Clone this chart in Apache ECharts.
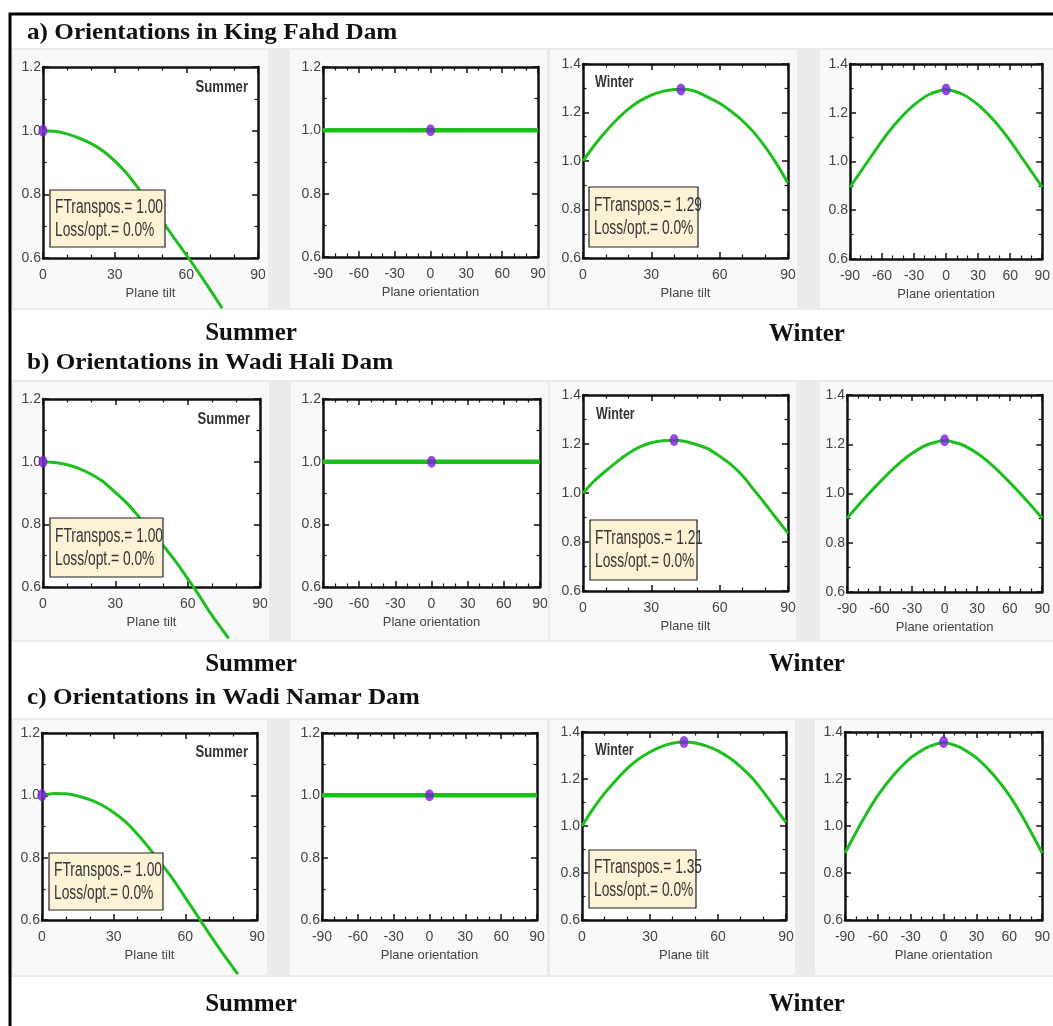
<!DOCTYPE html>
<html><head><meta charset="utf-8">
<script src="https://cdn.jsdelivr.net/npm/echarts@6/dist/echarts.min.js"></script>
<style>html,body{margin:0;padding:0;background:#fff}#c{width:1053px;height:1026px}</style>
</head><body><div id="c"></div>
<script>
// ================= DATA =================
const rowTitles = ['a) Orientations in King Fahd Dam', 'b) Orientations in Wadi Hali Dam', 'c) Orientations in Wadi Namar Dam'];
const seasonNames = ['Summer', 'Winter'];
const xNameTilt = 'Plane tilt';
const xNameOrient = 'Plane orientation';
const tiltTicks = [0, 30, 60, 90];
const orientTicks = [-90, -60, -30, 0, 30, 60, 90];
const summerYTicks = [0.6, 0.8, 1.0, 1.2];
const winterYTicks = [0.6, 0.8, 1.0, 1.2, 1.4];

// Summer – transposition factor vs plane tilt (curve leaves the frame at the bottom)
const summerTiltA = [0, 5, 10, 15, 20, 25, 30, 35, 40, 45, 50, 55, 60, 65, 70, 75];
const summerValA  = [1.000, 0.998, 0.990, 0.977, 0.960, 0.937, 0.905, 0.866, 0.818, 0.766, 0.714, 0.662, 0.610, 0.556, 0.500, 0.442];
const summerTiltB = [0, 5, 10, 15, 20, 25, 30, 35, 40, 45, 50, 55, 60, 65, 70, 75, 77];
const summerValB  = [1.000, 0.997, 0.990, 0.978, 0.960, 0.936, 0.902, 0.866, 0.822, 0.778, 0.731, 0.682, 0.627, 0.570, 0.510, 0.457, 0.436];
const summerTiltC = [0, 5, 10, 15, 20, 25, 30, 35, 40, 45, 50, 55, 60, 65, 70, 75, 80, 82];
const summerValC  = [1.000, 1.006, 1.005, 0.998, 0.986, 0.969, 0.945, 0.915, 0.875, 0.829, 0.780, 0.729, 0.672, 0.614, 0.556, 0.500, 0.447, 0.426];

// Winter – transposition factor vs plane tilt
const winterTilt = [0, 5, 10, 15, 20, 25, 30, 35, 40, 45, 50, 55, 60, 65, 70, 75, 80, 85, 90];
const winterTiltValA = [1.000, 1.065, 1.122, 1.172, 1.215, 1.248, 1.272, 1.287, 1.295, 1.296, 1.285, 1.262, 1.238, 1.205, 1.166, 1.118, 1.058, 0.988, 0.909];
const winterTiltValB = [1.000, 1.050, 1.090, 1.128, 1.162, 1.188, 1.205, 1.213, 1.215, 1.210, 1.197, 1.180, 1.150, 1.116, 1.071, 1.013, 0.955, 0.895, 0.836];
const winterTiltValC = [1.000, 1.075, 1.140, 1.195, 1.245, 1.285, 1.315, 1.338, 1.352, 1.357, 1.353, 1.340, 1.320, 1.290, 1.252, 1.205, 1.145, 1.080, 1.015];

// Transposition factor vs plane orientation
const orientDeg = [-90, -75, -60, -45, -30, -15, 0, 15, 30, 45, 60, 75, 90];
const summerOrientValA = [1.00, 1.00, 1.00, 1.00, 1.00, 1.00, 1.00, 1.00, 1.00, 1.00, 1.00, 1.00, 1.00];
const summerOrientValB = [1.00, 1.00, 1.00, 1.00, 1.00, 1.00, 1.00, 1.00, 1.00, 1.00, 1.00, 1.00, 1.00];
const summerOrientValC = [1.00, 1.00, 1.00, 1.00, 1.00, 1.00, 1.00, 1.00, 1.00, 1.00, 1.00, 1.00, 1.00];
const winterOrientValA = [0.895, 0.990, 1.085, 1.167, 1.232, 1.277, 1.295, 1.277, 1.232, 1.167, 1.085, 0.990, 0.895];
const winterOrientValB = [0.900, 0.975, 1.045, 1.110, 1.163, 1.200, 1.215, 1.200, 1.163, 1.110, 1.045, 0.975, 0.900];
const winterOrientValC = [0.885, 1.015, 1.130, 1.220, 1.290, 1.335, 1.355, 1.335, 1.290, 1.220, 1.130, 1.015, 0.885];

// Optimum points and info-box values
const optSummerTilt = [0, 0, 0];
const optSummerVal  = [1.00, 1.00, 1.00];
const optSummerOrient = [0, 0, 0];
const optWinterTilt = [43, 40, 45];
const optWinterVal  = [1.295, 1.216, 1.357];
const optWinterOrient = [0, 0, 0];
const fTransposSummer = ['1.00', '1.00', '1.00'];
const fTransposWinter = ['1.29', '1.21', '1.35'];
const lossOpt = ['0.0%', '0.0%', '0.0%'];

// ================= LAYOUT / STYLE =================
const FONT_N = '"Liberation Sans","Arial",sans-serif';
const FONT_S = '"Liberation Serif","DejaVu Serif",serif';
const GREEN = '#1dbf1d';
const PURPLE = '#7b1fd6';
const FRAME = '#111';

const GRIDS = [
  {l: 43, t: 67, w: 215, h: 191}, {l: 323, t: 67, w: 215, h: 190}, {l: 583, t: 64, w: 205, h: 194}, {l: 850, t: 64, w: 202, h: 195},
  {l: 43, t: 399, w: 217, h: 188}, {l: 323, t: 399, w: 217, h: 188}, {l: 583, t: 395, w: 205, h: 196}, {l: 847, t: 395, w: 204, h: 197},
  {l: 42, t: 733, w: 215, h: 187}, {l: 322, t: 733, w: 215, h: 187}, {l: 582, t: 732, w: 204, h: 188}, {l: 845, t: 732, w: 202, h: 188}
];

const zip = (xs, ys) => xs.map((x, i) => [x, ys[i]]);
const sTilt = [[summerTiltA, summerValA], [summerTiltB, summerValB], [summerTiltC, summerValC]];
const wTiltV = [winterTiltValA, winterTiltValB, winterTiltValC];
const sOrV = [summerOrientValA, summerOrientValB, summerOrientValC];
const wOrV = [winterOrientValA, winterOrientValB, winterOrientValC];

const panels = [];
for (let r = 0; r < 3; r++) {
  panels.push({kind: 'tilt', yt: summerYTicks, data: zip(sTilt[r][0], sTilt[r][1]), opt: [optSummerTilt[r], optSummerVal[r]], clip: false, lw: 3});
  panels.push({kind: 'orient', yt: summerYTicks, data: zip(orientDeg, sOrV[r]), opt: [optSummerOrient[r], optSummerVal[r]], clip: true, lw: 4.5});
  panels.push({kind: 'tilt', yt: winterYTicks, data: zip(winterTilt, wTiltV[r]), opt: [optWinterTilt[r], optWinterVal[r]], clip: true, lw: 3});
  panels.push({kind: 'orient', yt: winterYTicks, data: zip(orientDeg, wOrV[r]), opt: [optWinterOrient[r], optWinterVal[r]], clip: true, lw: 3});
}

const grid = [], xAxis = [], yAxis = [], series = [];
const lineAxis = () => ({show: true, onZero: false, lineStyle: {color: FRAME, width: 2.5}});
panels.forEach((p, i) => {
  const g = GRIDS[i];
  grid.push({left: g.l, top: g.t, width: g.w, height: g.h, show: true, backgroundColor: '#ffffff', borderWidth: 0});
  const xt = p.kind === 'tilt' ? tiltTicks : orientTicks;
  const xmin = xt[0], xmax = xt[xt.length - 1], xint = xt[1] - xt[0];
  const ymin = p.yt[0], ymax = p.yt[p.yt.length - 1], yint = +(p.yt[1] - p.yt[0]).toFixed(2);
  const baseX = {
    type: 'value', gridIndex: i, min: xmin, max: xmax, interval: xint,
    axisLine: lineAxis(), splitLine: {show: false},
    axisTick: {show: true, inside: true, length: 6, lineStyle: {color: FRAME, width: 1.5}},
    minorTick: {show: true, splitNumber: 3, length: 3.5, lineStyle: {color: FRAME, width: 1.2}},
  };
  xAxis.push(Object.assign({}, baseX, {
    position: 'bottom',
    axisLabel: {fontFamily: FONT_N, fontSize: 14, color: '#444', margin: 10},
    name: p.kind === 'tilt' ? xNameTilt : xNameOrient, nameLocation: 'middle', nameGap: 29,
    nameTextStyle: {fontFamily: FONT_N, fontSize: 13, color: '#444'}
  }));
  xAxis.push(Object.assign({}, baseX, {position: 'top', axisLabel: {show: false}}));
  const baseY = {
    type: 'value', gridIndex: i, min: ymin, max: ymax, interval: yint,
    axisLine: lineAxis(), splitLine: {show: false},
    axisTick: {show: true, inside: true, length: 6, lineStyle: {color: FRAME, width: 1.5}},
    minorTick: {show: true, splitNumber: 2, length: 3.5, lineStyle: {color: FRAME, width: 1.2}},
  };
  yAxis.push(Object.assign({}, baseY, {
    position: 'left',
    axisLabel: {fontFamily: FONT_N, fontSize: 14, color: '#444', margin: 2, formatter: v => v.toFixed(1)}
  }));
  yAxis.push(Object.assign({}, baseY, {position: 'right', axisLabel: {show: false}}));
  series.push({
    type: 'line', xAxisIndex: 2 * i, yAxisIndex: 2 * i, data: p.data, symbol: 'none', smooth: 0.2,
    clip: p.clip, lineStyle: {color: GREEN, width: p.lw}, z: 3, silent: true
  });
  series.push({
    type: 'scatter', xAxisIndex: 2 * i, yAxisIndex: 2 * i, data: [p.opt], symbol: 'circle', symbolSize: [9, 12],
    itemStyle: {color: PURPLE}, clip: false, z: 5, silent: true
  });
});

// ================= GRAPHIC (backgrounds, titles, boxes) =================
const graphic = [];
const rowsY = [[48, 310], [380, 642], [718, 977]];
const panelX = [
  [[13, 268], [290, 547], [550, 797], [820, 1053]],
  [[13, 269], [291, 548], [550, 796], [820, 1053]],
  [[13, 267], [290, 547], [550, 795], [815, 1053]]
];
rowsY.forEach((ry, r) => {
  graphic.push({type: 'rect', z: -10, shape: {x: 12, y: ry[0], width: 1045, height: ry[1] - ry[0]}, style: {fill: '#ebebeb'}, silent: true});
  panelX[r].forEach(px => {
    graphic.push({type: 'rect', z: -9, shape: {x: px[0], y: ry[0] + 2, width: px[1] - px[0], height: ry[1] - ry[0] - 4}, style: {fill: '#f9f9f9'}, silent: true});
  });
});
// outer frame
graphic.push({type: 'rect', z: 50, shape: {x: 10, y: 14, width: 1100, height: 1100}, style: {fill: 'none', stroke: '#000', lineWidth: 3}, silent: true});

const titleY = [33, 363, 698];
const seasonY = [[334, 335], [665, 665], [1005, 1005]];
for (let r = 0; r < 3; r++) {
  graphic.push({type: 'text', z: 60, x: 27, y: titleY[r], scaleX: 1.05, style: {text: rowTitles[r], font: 'bold 24px ' + FONT_S, fill: '#111', align: 'left', verticalAlign: 'middle', textAlign: 'left', textVerticalAlign: 'middle'}});
  graphic.push({type: 'text', z: 60, x: 251, y: seasonY[r][0], style: {text: seasonNames[0], font: 'bold 25px ' + FONT_S, fill: '#111', align: 'center', verticalAlign: 'middle', textAlign: 'center', textVerticalAlign: 'middle'}});
  graphic.push({type: 'text', z: 60, x: 807, y: seasonY[r][1], style: {text: seasonNames[1], font: 'bold 25px ' + FONT_S, fill: '#111', align: 'center', verticalAlign: 'middle', textAlign: 'center', textVerticalAlign: 'middle'}});
}
// in-plot season labels
const sumLab = [[248, 88], [250, 420], [248, 753]];
const winLab = [[595, 83], [596, 415], [595, 751]];
for (let r = 0; r < 3; r++) {
  graphic.push({type: 'text', z: 60, x: sumLab[r][0], y: sumLab[r][1], scaleX: 0.82, style: {text: seasonNames[0], font: 'bold 16px ' + FONT_N, fill: '#333', align: 'right', verticalAlign: 'middle', textAlign: 'right', textVerticalAlign: 'middle'}});
  graphic.push({type: 'text', z: 60, x: winLab[r][0], y: winLab[r][1], scaleX: 0.78, style: {text: seasonNames[1], font: 'bold 16px ' + FONT_N, fill: '#333', align: 'left', verticalAlign: 'middle', textAlign: 'left', textVerticalAlign: 'middle'}});
}
// info boxes
const boxes = [
  [[50, 190, 115, 57], fTransposSummer[0], lossOpt[0]], [[589, 187, 109, 60], fTransposWinter[0], lossOpt[0]],
  [[50, 518, 113, 59], fTransposSummer[1], lossOpt[1]], [[590, 520, 107, 60], fTransposWinter[1], lossOpt[1]],
  [[49, 853, 114, 57], fTransposSummer[2], lossOpt[2]], [[589, 850, 107, 58], fTransposWinter[2], lossOpt[2]]
];
boxes.forEach(b => {
  const [x, y, w, h] = b[0];
  graphic.push({type: 'rect', z: 70, shape: {x: x, y: y, width: w, height: h}, style: {fill: '#fcf3d6', stroke: '#222', lineWidth: 1.2}, silent: true});
  graphic.push({type: 'text', z: 71, x: x + 5, y: y + h / 2, scaleX: 0.69, style: {text: 'FTranspos.= ' + b[1] + '\nLoss/opt.= ' + b[2], font: '20px ' + FONT_N, lineHeight: 23, fill: '#333', align: 'left', verticalAlign: 'middle', textAlign: 'left', textVerticalAlign: 'middle'}});
});

const chart = echarts.init(document.getElementById('c'), null, {renderer: 'canvas'});
chart.setOption({
  backgroundColor: '#ffffff',
  animation: false,
  grid, xAxis, yAxis, series,
  graphic: {elements: graphic}
});
</script></body></html>
